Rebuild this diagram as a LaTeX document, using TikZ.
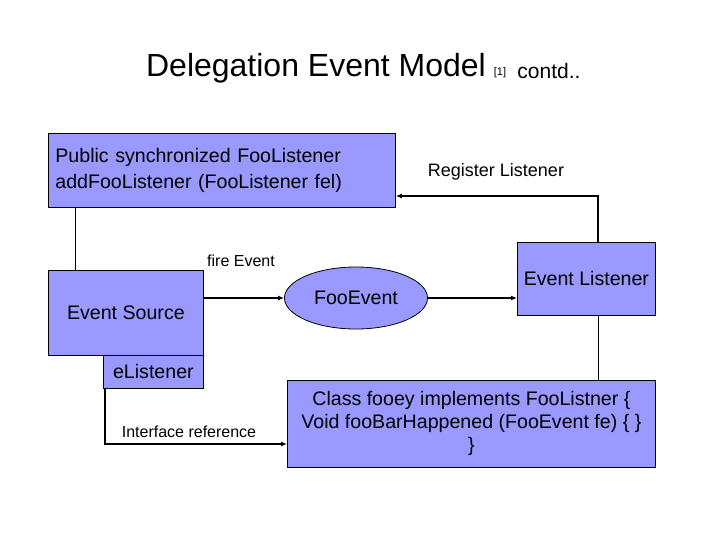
\documentclass[tikz,border=0pt]{standalone}
\usepackage{fontspec}
\setmainfont{Liberation Sans}
\usetikzlibrary{arrows.meta,shapes.geometric}
\definecolor{boxblue}{HTML}{9999FF}
\begin{document}
\begin{tikzpicture}[x=1pt,y=-1pt,
        box/.style={draw,fill=boxblue,line width=0.8pt,anchor=north west,inner sep=0pt},
        lbl/.style={font=\fontsize{16}{19}\selectfont},
        arr/.style={line width=1.4pt,-{Latex[length=6pt,width=5pt]}},
        tie/.style={line width=0.8pt}]
        \useasboundingbox (0,0) rectangle (720,540);
        % title
        \node (title) at (316,68) {\fontsize{32}{38}\selectfont Delegation Event Model};
        \node (ref) at (500,73) {\fontsize{11}{13}\selectfont [1]};
        \node (cont) at (549,71) {\fontsize{21}{25}\selectfont contd..};
        % boxes
        \node[box,minimum width=347pt,minimum height=74pt,align=left,inner xsep=7pt,text width=333pt,
              font=\fontsize{19.6}{26}\selectfont] (pub) at (48,133)
              {Public synchronized FooListener\\addFooListener (FooListener fel)};
        \node[box,minimum width=155pt,minimum height=85pt,font=\fontsize{19.6}{23}\selectfont] (src) at (48,270) {Event Source};
        \node[box,minimum width=100pt,minimum height=33pt,font=\fontsize{19.6}{23}\selectfont] (el) at (103,355) {eListener};
        \node[draw,fill=boxblue,ellipse,line width=0.8pt,inner sep=0pt,minimum width=143pt,minimum height=62pt,
              font=\fontsize{19.6}{23}\selectfont] (ev) at (356,298) {FooEvent};
        \node[box,minimum width=138pt,minimum height=73pt,font=\fontsize{19.6}{23}\selectfont] (lst) at (517,242) {Event Listener};
        \node[box,minimum width=368pt,minimum height=87pt,align=center,
              font=\fontsize{19.6}{23}\selectfont] (cls) at (287,380)
              {Class fooey implements FooListner \{\\Void fooBarHappened (FooEvent fe) \{ \}\\\}};
        % labels
        \node[font=\fontsize{18}{21}\selectfont] (regl) at (496,172) {Register Listener};
        \node[lbl] (fire) at (241,261) {fire Event};
        \node[lbl] (ifcl) at (189,432) {Interface reference};
        % connectors
        \coordinate (reg) at (598,196);
        \coordinate (up) at (75,240);
        \coordinate (ifc) at (105,444);
        \draw[arr] (reg |- lst.north) -- (reg) -- (reg -| pub.east);
        \draw[tie] (up |- pub.south) -- (up |- src.north);
        \draw[arr] (src.east |- ev.west) -- (ev.west);
        \draw[arr] (ev.east) -- (ev.east -| lst.west);
        \draw[tie] (reg |- lst.south) -- (reg |- cls.north);
        \draw[arr] (ifc |- el.south) -- (ifc) -- (ifc -| cls.west);
\end{tikzpicture}
\end{document}
